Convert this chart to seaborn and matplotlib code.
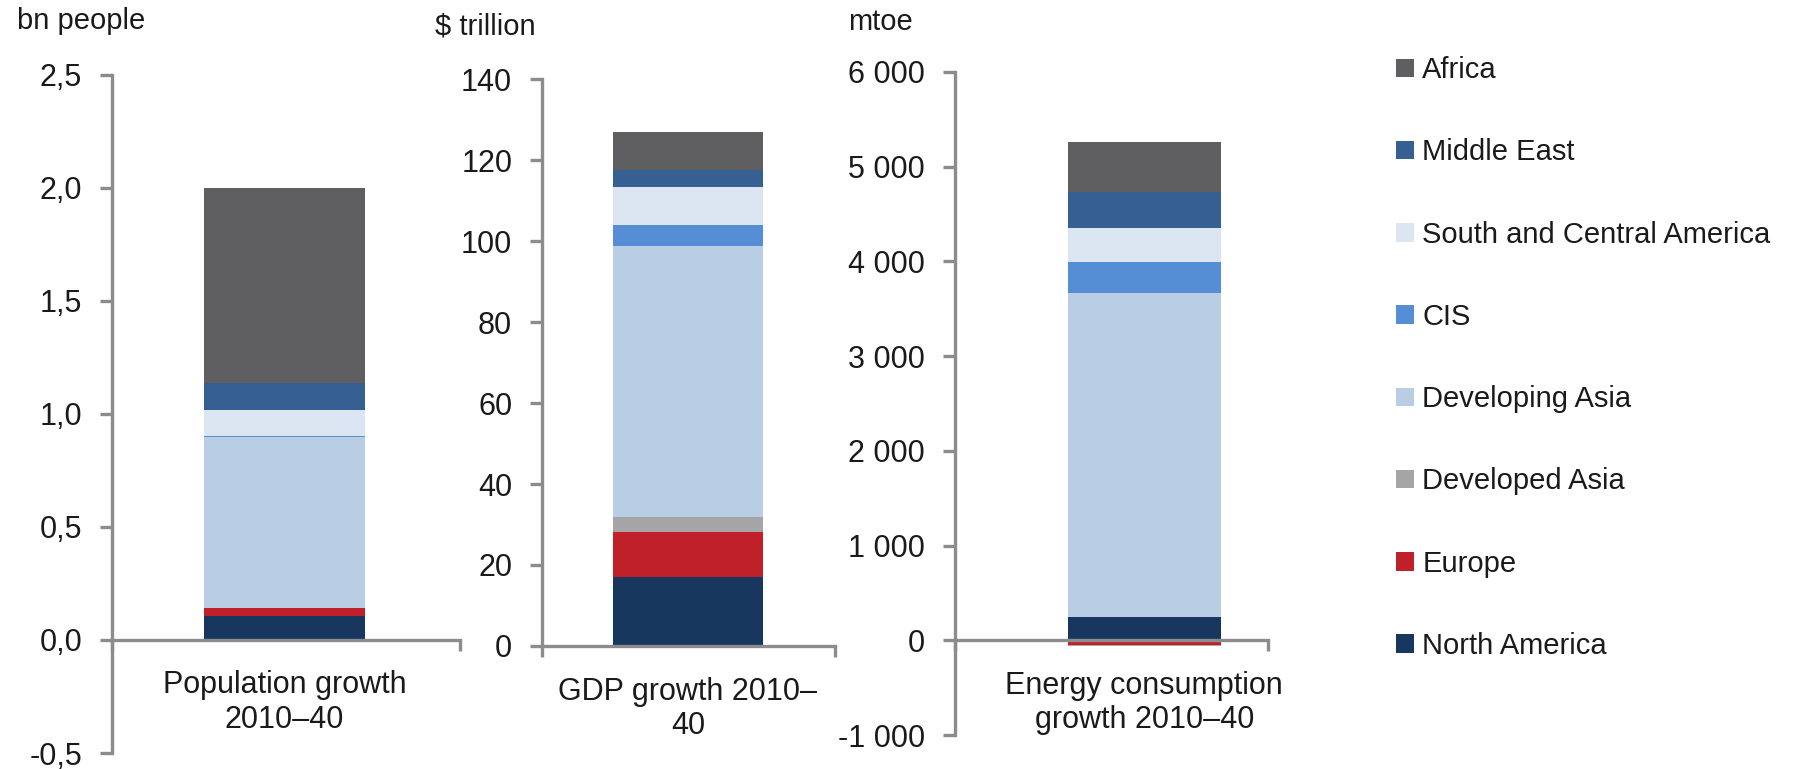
import matplotlib
matplotlib.use("Agg")
import matplotlib.pyplot as plt
import matplotlib.ticker as mticker
from matplotlib.patches import Patch
import pandas as pd
import seaborn as sns

# Regions, bottom of the stack first
regions = ["North America", "Europe", "Developed Asia", "Developing Asia",
           "CIS", "South and Central America", "Middle East", "Africa"]
colors = ["#17375e", "#c0202a", "#a5a5a8", "#b9cde5",
          "#558ed5", "#dce6f2", "#366092", "#5f5f61"]

population = [0.104, 0.035, 0.0, 0.76, 0.004, 0.112, 0.119, 0.864]   # bn people
gdp = [17.1, 11.0, 3.8, 66.9, 5.1, 9.4, 4.3, 9.4]                      # $ trillion
energy = [249, -47, -16, 3418, 323, 358, 390, 519]                     # mtoe

panels = [
    dict(label="Population growth\n2010–40", unit="bn people", values=population,
         ylim=(-0.5, 2.5), step=0.5, fmt=lambda v, p: f"{v:.1f}".replace(".", ","),
         rect=[0.0625, 0.0208, 0.1941, 0.8823], center=0.496, width=0.463,
         unit_xy=(0.0095, 0.973), zero_spine=True),
    dict(label="GDP growth 2010–\n40", unit="$ trillion", values=gdp,
         ylim=(0, 140), step=20, fmt=lambda v, p: f"{v:.0f}",
         rect=[0.3023, 0.160, 0.1634, 0.737], center=0.498, width=0.512,
         unit_xy=(0.2426, 0.965), zero_spine=False),
    dict(label="Energy consumption\ngrowth 2010–40", unit="mtoe", values=energy,
         ylim=(-1000, 6000), step=1000, fmt=lambda v, p: f"{int(round(v)):,}".replace(",", " "),
         rect=[0.5326, 0.0442, 0.1746, 0.8622], center=0.605, width=0.489,
         unit_xy=(0.473, 0.971), zero_spine=True),
]

sns.set_theme(style="white")
plt.rcParams["font.family"] = ["Liberation Sans", "DejaVu Sans"]
text_color = "#1a1a1a"
axis_color = "#8c8c8c"

fig = plt.figure(figsize=(17.93, 7.69), dpi=100)

for p in panels:
    ax = fig.add_axes(p["rect"])
    pos_base, neg_base = 0.0, 0.0
    for region, col, val in zip(regions, colors, p["values"]):
        if val >= 0:
            bottom = pos_base
            pos_base += val
        else:
            bottom = neg_base
            neg_base += val
        df = pd.DataFrame({"cat": [p["label"]], "value": [val]})
        sns.barplot(data=df, x="cat", y="value", color=col, saturation=1,
                    width=p["width"], errorbar=None, linewidth=0,
                    bottom=bottom, ax=ax)
    c = p["center"]
    ax.set_xlim(-c, 1 - c)
    ax.set_ylim(*p["ylim"])
    lo, hi = p["ylim"]
    n = int(round((hi - lo) / p["step"]))
    ax.set_yticks([lo + i * p["step"] for i in range(n + 1)])
    ax.yaxis.set_major_formatter(mticker.FuncFormatter(p["fmt"]))
    ax.set_xlabel("")
    ax.set_ylabel("")

    for s in ["top", "right"]:
        ax.spines[s].set_visible(False)
    for s in ["left", "bottom"]:
        ax.spines[s].set_color(axis_color)
        ax.spines[s].set_linewidth(2.4)
    if p["zero_spine"]:
        ax.spines["bottom"].set_position(("data", 0))

    ax.set_xticks([0])
    ax.set_xticklabels([p["label"]])
    ax.set_xticks([-c, 1 - c], minor=True)
    ax.tick_params(axis="x", which="major", length=0, pad=22,
                   labelsize=22, labelcolor=text_color)
    ax.tick_params(axis="x", which="minor", bottom=True, length=8,
                   width=2.4, color=axis_color, direction="out")
    ax.tick_params(axis="y", left=True, length=8.5, width=2.4,
                   color=axis_color, direction="out", pad=13,
                   labelsize=22, labelcolor=text_color)
    ax.patch.set_alpha(0)
    fig.text(p["unit_xy"][0], p["unit_xy"][1], p["unit"], fontsize=21,
             color=text_color, va="center", ha="left")

handles = [Patch(facecolor=col, edgecolor="none", label=r)
           for r, col in zip(regions[::-1], colors[::-1])]
fig.legend(handles=handles, loc="upper left", bbox_to_anchor=(0.7786, 0.927),
           frameon=False, fontsize=21, handlelength=0.6, handleheight=0.6,
           handletextpad=0.3, labelspacing=1.86, borderpad=0, borderaxespad=0,
           labelcolor=text_color)

fig.savefig("out.png", dpi=100)
